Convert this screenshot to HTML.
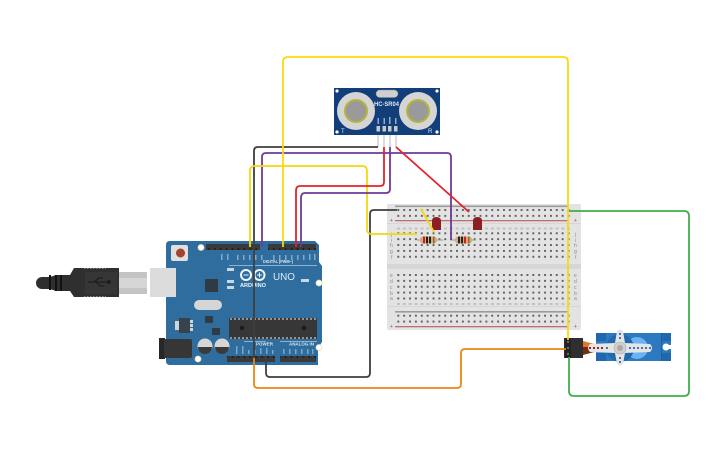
<!DOCTYPE html>
<html><head><meta charset="utf-8"><style>
html,body{margin:0;padding:0;background:#fff;width:725px;height:453px;overflow:hidden}
svg{display:block}
text{font-family:"Liberation Sans",sans-serif}
</style></head><body>
<svg width="725" height="453" viewBox="0 0 725 453" xmlns="http://www.w3.org/2000/svg">
<defs>
<pattern id="h1" x="395.35" y="207.05" width="5.87" height="5.87" patternUnits="userSpaceOnUse"><rect x="2" y="2" width="1.9" height="1.9" fill="#5c5c5c"/></pattern>
<pattern id="h2" x="395.35" y="230.35" width="5.87" height="5.87" patternUnits="userSpaceOnUse"><rect x="2" y="2" width="1.9" height="1.9" fill="#5c5c5c"/></pattern>
<pattern id="h3" x="395.35" y="272.05" width="5.87" height="5.87" patternUnits="userSpaceOnUse"><rect x="2" y="2" width="1.9" height="1.9" fill="#5c5c5c"/></pattern>
<pattern id="h4" x="395.35" y="312.75" width="5.87" height="5.87" patternUnits="userSpaceOnUse"><rect x="2" y="2" width="1.9" height="1.9" fill="#5c5c5c"/></pattern>
<pattern id="hd" x="206" y="0" width="5.9" height="6" patternUnits="userSpaceOnUse"><rect x="0" y="0" width="5.9" height="6" fill="#3a3a3a"/><rect x="2.1" y="2" width="1.7" height="2" fill="#1e1e1e"/></pattern>
</defs>
<!-- USB -->
<rect x="119" y="272" width="28" height="22" fill="#c4c4c4"/>
<rect x="119" y="278" width="28" height="10" fill="#d6d6d6"/>
<path d="M42 277H50L56 275H70L74 268H119V297H74L70 291H56L50 289H42A6 6 0 0 1 42 277Z" fill="#2f2f2f"/>
<rect x="49" y="275" width="2" height="15" fill="#111"/><rect x="55" y="275" width="2" height="16" fill="#111"/><rect x="60" y="275" width="2" height="16" fill="#111"/>
<path d="M84 268.500H106M84 296.500H106" stroke="#aaa" stroke-width=".8" stroke-dasharray="1.500 1.500"/>
<rect x="85" y="272" width="32" height="22" fill="#383838" opacity=".8"/>
<path d="M88 282H110M94 282L99 278H103M96 282L100 286H104" stroke="#1d1d1d" stroke-width="1.200" fill="none"/><circle cx="109" cy="282" r="2" fill="#1d1d1d"/>
<!-- Arduino -->
<path d="M170 241H315L319 245V262L322 266V342L318 348V365H170Q166 365 166 361V245Q166 241 170 241Z" fill="#2e6d9e"/>
<rect x="150" y="268" width="26" height="29" fill="#dcdcdc"/>
<rect x="171" y="245" width="17" height="16" rx="2" fill="#dfdfdf"/><circle cx="180.500" cy="253" r="4.500" fill="#a5432e"/>
<circle cx="201" cy="247.500" r="3" fill="#fff" stroke="#e4dfa8" stroke-width=".8"/>
<circle cx="319" cy="283" r="3" fill="#fff" stroke="#e4dfa8" stroke-width=".8"/>
<circle cx="319" cy="347.500" r="3" fill="#fff" stroke="#e4dfa8" stroke-width=".8"/>
<circle cx="198" cy="359" r="3" fill="#fff" stroke="#e4dfa8" stroke-width=".8"/>
<rect x="206" y="244" width="54" height="6" fill="url(#hd)"/>
<rect x="268" y="244" width="48" height="6" fill="url(#hd)"/>
<rect x="227" y="356" width="48" height="6" fill="url(#hd)"/>
<rect x="280" y="356" width="36" height="6" fill="url(#hd)"/>
<g fill="#cfdde8" opacity=".55">
<rect x="221" y="254" width="1.500" height="6"/><rect x="227" y="254" width="1.500" height="6"/><rect x="237" y="255" width="1.500" height="5"/><rect x="243" y="255" width="1.500" height="5"/><rect x="249" y="255" width="1.500" height="5"/><rect x="255" y="255" width="1.500" height="5"/><rect x="261" y="255" width="1.500" height="5"/>
<rect x="273" y="255" width="1.500" height="5"/><rect x="279" y="255" width="1.500" height="5"/><rect x="285" y="255" width="1.500" height="5"/><rect x="291" y="255" width="1.500" height="5"/><rect x="297" y="255" width="1.500" height="5"/><rect x="303" y="255" width="1.500" height="5"/><rect x="309" y="254" width="1.500" height="6"/><rect x="314" y="254" width="1.500" height="6"/>
</g>
<rect x="229" y="265" width="88" height=".7" fill="#b8d0e2"/>
<text x="263" y="263" font-size="4.600" font-weight="700" fill="#dbe7f0" textLength="30" lengthAdjust="spacingAndGlyphs">DIGITAL (PWM~)</text>
<circle cx="246" cy="275" r="5" fill="none" stroke="#f2f6f9" stroke-width="2"/>
<circle cx="259.500" cy="275" r="5" fill="none" stroke="#f2f6f9" stroke-width="2"/>
<path d="M243.500 275H248.500M257 275H262M259.500 272.500V277.500" stroke="#f2f6f9" stroke-width="1"/>
<text x="240" y="287" font-size="5" font-weight="700" fill="#eef4f8" textLength="26" lengthAdjust="spacingAndGlyphs">ARDUINO</text>
<text x="273" y="280" font-size="10" fill="#dfeaf3" textLength="22" lengthAdjust="spacingAndGlyphs">UNO</text>
<rect x="205" y="279" width="13" height="13" fill="#2f3b44"/>
<rect x="227" y="268" width="7" height="3" fill="#c9d7e0"/><rect x="227" y="280" width="7" height="3" fill="#c9d7e0"/><rect x="227" y="286" width="7" height="3" fill="#c9d7e0"/>
<rect x="301" y="279" width="8" height="3" fill="#c9d7e0"/>
<rect x="194" y="300" width="28" height="10" rx="5" fill="#d5d5d5"/>
<rect x="205" y="316" width="8" height="7" rx="1" fill="#2f3b44"/>
<rect x="175" y="321" width="6" height="9" fill="#cfd6da"/><rect x="179" y="318" width="11" height="15" fill="#37424a"/><rect x="190" y="320" width="3" height="3" fill="#cfd6da"/><rect x="190" y="324" width="3" height="3" fill="#cfd6da"/><rect x="190" y="328" width="3" height="3" fill="#cfd6da"/>
<rect x="212" y="328" width="8" height="7" fill="#2f3b44"/>
<rect x="229" y="318" width="88" height="21" rx="1" fill="#373737"/>
<path d="M230 319H316M230 338H316" stroke="#eee" stroke-width=".9" stroke-dasharray="2 2"/>
<circle cx="242" cy="328" r="2.200" fill="#1b1b1b"/><circle cx="304" cy="328" r="2.200" fill="#1b1b1b"/>
<rect x="159" y="338" width="6" height="21" fill="#272727"/><rect x="164" y="339" width="28" height="19" rx="2" fill="#363636"/>
<circle cx="205" cy="346" r="7.500" fill="#d6d6d6"/><path d="M198 347A7 7 0 0 0 212 347Z" fill="#3a3a3a"/>
<circle cx="222" cy="346" r="7.500" fill="#d6d6d6"/><path d="M215 347A7 7 0 0 0 229 347Z" fill="#3a3a3a"/>
<text x="256" y="345.500" font-size="4.500" font-weight="700" fill="#dbe7f0" textLength="17" lengthAdjust="spacingAndGlyphs">POWER</text>
<text x="289" y="345.500" font-size="4.500" font-weight="700" fill="#dbe7f0" textLength="25" lengthAdjust="spacingAndGlyphs">ANALOG IN</text>
<rect x="244" y="341" width="22" height=".7" fill="#b8d0e2"/><rect x="280" y="341" width="37" height=".7" fill="#b8d0e2"/>
<g fill="#cfdde8" opacity=".5"><rect x="236" y="346" width="1.500" height="8"/><rect x="242" y="346" width="1.500" height="8"/><rect x="248" y="350" width="1.500" height="4"/><rect x="254" y="350" width="1.500" height="4"/><rect x="260" y="348" width="1.500" height="6"/><rect x="266" y="348" width="1.500" height="6"/><rect x="272" y="350" width="1.500" height="4"/><rect x="283" y="349" width="1.500" height="5"/><rect x="289" y="349" width="1.500" height="5"/><rect x="295" y="349" width="1.500" height="5"/><rect x="301" y="349" width="1.500" height="5"/><rect x="307" y="349" width="1.500" height="5"/><rect x="312" y="349" width="1.500" height="5"/></g>
<!-- Breadboard -->
<rect x="387" y="204" width="194" height="126" rx="2" fill="#e3e3e3"/>
<rect x="387" y="223" width="194" height="1" fill="#d6d6d6"/>
<rect x="387" y="264" width="194" height="5" fill="#d6d6d6"/>
<rect x="387" y="306" width="194" height="1" fill="#d6d6d6"/>
<rect x="395" y="205.500" width="173" height="1.600" fill="#9b9b9b"/>
<rect x="395" y="220" width="173" height="1.300" fill="#bc7070"/>
<rect x="395" y="311" width="173" height="1.600" fill="#9b9b9b"/>
<rect x="395" y="326" width="173" height="1.300" fill="#bc7070"/>
<rect x="395.350" y="207.050" width="176.100" height="11.740" fill="url(#h1)"/>
<rect x="395.350" y="230.350" width="176.100" height="29.350" fill="url(#h2)"/>
<rect x="395.350" y="272.050" width="176.100" height="29.350" fill="url(#h3)"/>
<rect x="395.350" y="312.750" width="176.100" height="11.740" fill="url(#h4)"/>
<g font-size="5" fill="#8a8a8a">
<text x="390" y="222" fill="#b33">+</text><text x="574" y="222" fill="#b33">+</text>
<text x="390" y="328" fill="#b33">+</text><text x="574" y="328" fill="#b33">+</text>
<text x="391" y="236">j</text><text x="391" y="242">i</text><text x="390" y="247">h</text><text x="390" y="253">g</text><text x="391" y="259">f</text>
<text x="390" y="277">e</text><text x="390" y="283">d</text><text x="390" y="289">c</text><text x="390" y="295">b</text><text x="390" y="300">a</text>
<text x="575" y="236">j</text><text x="575" y="242">i</text><text x="574" y="247">h</text><text x="574" y="253">g</text><text x="575" y="259">f</text>
<text x="574" y="277">e</text><text x="574" y="283">d</text><text x="574" y="289">c</text><text x="574" y="295">b</text><text x="574" y="300">a</text>
</g>
<path d="M397 228.500H570M397 304H570" stroke="#c2c2c2" stroke-width="2" stroke-dasharray="3 2.870"/>
<!-- Resistors -->
<path d="M417 240H443M450 240H476" stroke="#999" stroke-width="1"/>
<rect x="420" y="236.500" width="17" height="7" rx="3" fill="#d3ad73"/>
<rect x="423" y="236.500" width="2" height="7" fill="#c22"/><rect x="426" y="236.500" width="2" height="7" fill="#222"/><rect x="429" y="236.500" width="2" height="7" fill="#222"/><rect x="433" y="236.500" width="1.500" height="7" fill="#8a6a30"/>
<rect x="455" y="236.500" width="17" height="7" rx="3" fill="#d3ad73"/>
<rect x="458" y="236.500" width="2" height="7" fill="#222"/><rect x="461" y="236.500" width="2" height="7" fill="#222"/><rect x="464" y="236.500" width="2" height="7" fill="#c22"/><rect x="468" y="236.500" width="1.500" height="7" fill="#8a6a30"/>
<!-- LEDs -->
<path d="M432 230V221Q432 217 436 217Q441 217 441 221V230Z" fill="#8c1f24"/>
<path d="M473 230V221Q473 217 477.500 217Q482 217 482 221V230Z" fill="#8c1f24"/>
<!-- Servo -->
<path d="M583 341L598 345V347H583Z" fill="#d9782a"/><rect x="583" y="347" width="6" height="4" fill="#8a1c1c"/><path d="M583 355L598 351V350H583Z" fill="#6b3414"/>
<path d="M596 333H671V361H596Z" fill="#2d79bf"/>
<rect x="596" y="333" width="10" height="8" fill="#1f68ad"/><rect x="596" y="353" width="10" height="8" fill="#1f68ad"/><rect x="661" y="333" width="10" height="8" fill="#1f68ad"/><rect x="661" y="353" width="10" height="8" fill="#1f68ad"/>
<rect x="661" y="333" width=".8" height="28" fill="#1a5d9c"/>
<circle cx="637" cy="348" r="11" fill="#6cb2f2"/><circle cx="620" cy="348" r="14" fill="#2268ad"/>
<circle cx="666" cy="347" r="3.500" fill="#fff"/><rect x="667" y="345" width="4" height="4" fill="#fff"/>
<path d="M617 331Q620 328 623 331L625 343L650 344Q654 348 650 352L625 353L623 364Q620 367 617 364L615 353L590 352Q586 348 590 344L615 343Z" fill="#e5e5e5"/>
<circle cx="620" cy="348" r="6" fill="#d0d0d0" stroke="#aaa" stroke-width=".6"/><circle cx="620" cy="348" r="3" fill="#aaa"/>
<g fill="#8a2b2b"><rect x="589" y="347" width="2" height="2"/><rect x="593" y="347" width="2" height="2"/><rect x="597" y="347" width="2" height="2"/><rect x="601" y="347" width="2" height="2"/></g>
<g fill="#3a78b5"><rect x="606" y="347" width="2" height="2"/><rect x="629" y="347" width="2" height="2"/><rect x="633" y="347" width="2" height="2"/><rect x="637" y="347" width="2" height="2"/><rect x="641" y="347" width="2" height="2"/><rect x="645" y="347" width="2" height="2"/><rect x="649" y="347" width="2" height="2"/><rect x="619" y="333" width="2" height="2"/><rect x="619" y="337" width="2" height="2"/><rect x="619" y="357" width="2" height="2"/><rect x="619" y="361" width="2" height="2"/></g>
<rect x="564" y="338" width="19" height="20" fill="#2f2f2f"/><rect x="565" y="338" width="6" height="20" fill="#222"/>
<circle cx="568" cy="342" r="1.200" fill="#666"/><circle cx="568" cy="348" r="1.200" fill="#666"/><circle cx="568" cy="354" r="1.200" fill="#666"/>
<!-- Sensor -->
<path d="M378 132V147M384 132V147M390 132V147M396 132V147" stroke="#d8d8d8" stroke-width="1.800"/>
<rect x="334" y="88" width="106" height="47" fill="#123f7a"/>
<circle cx="337" cy="91" r="1.600" fill="#fff"/><circle cx="437" cy="91" r="1.600" fill="#fff"/><circle cx="337" cy="132" r="1.600" fill="#fff"/><circle cx="437" cy="132" r="1.600" fill="#fff"/>
<rect x="376" y="90" width="22" height="7.500" rx="3.700" fill="#cfcfcf" stroke="#888" stroke-width=".5"/>
<circle cx="356" cy="111" r="19" fill="#d5d5d5"/><circle cx="356" cy="111" r="12" fill="#b5b53c"/><circle cx="356" cy="111" r="10" fill="#9a9a9a"/>
<circle cx="418" cy="111" r="19" fill="#d5d5d5"/><circle cx="418" cy="111" r="12" fill="#b5b53c"/><circle cx="418" cy="111" r="10" fill="#9a9a9a"/>
<text x="374" y="106" font-size="6" font-weight="700" fill="#e4e9f0" textLength="25" lengthAdjust="spacingAndGlyphs">HC-SR04</text>
<rect x="376.500" y="126" width="3.500" height="5.500" fill="#c8c8c8"/><rect x="382.500" y="126" width="3.500" height="5.500" fill="#c8c8c8"/><rect x="388" y="126" width="3.500" height="5.500" fill="#c8c8c8"/><rect x="394" y="126" width="3.500" height="5.500" fill="#c8c8c8"/>
<g fill="#cfd8e4" opacity=".7"><rect x="377.500" y="118" width="1.500" height="6"/><rect x="383.500" y="118" width="1.500" height="6"/><rect x="389" y="117" width="1.500" height="7"/><rect x="395" y="118" width="1.500" height="6"/></g>
<text x="341" y="133" font-size="6" fill="#dfe5ee">T</text><text x="428" y="133" font-size="6" fill="#dfe5ee">R</text>
<!-- Wires -->
<g fill="none" stroke-width="1.800" stroke-linejoin="round">
<path d="M254 358V384Q254 388 258 388H457Q461 388 461 384V353Q461 349 465 349H566" stroke="#ee8412"/>
<path d="M266 358V373Q266 377 270 377H366Q370 377 370 373V214Q370 210 374 210H397" stroke="#3f3f3f"/>
<path d="M567 211H684Q689 211 689 216V391Q689 396 684 396H574Q569 396 569 391V357" stroke="#3fae49"/>
<path d="M378 147H258Q254 147 254 151V358" stroke="#3f3f3f"/>
<path d="M262 247V157Q262 153 266 153H447Q451 153 451 157V240" stroke="#6f3a96"/>
<path d="M250 247V171Q250 166 255 166H362Q367 166 367 171V229Q367 234 372 234H417" stroke="#f4d80e"/>
<path d="M296 247V191Q296 186 300 186H380Q384 186 384 182V147" stroke="#e2232a"/>
<path d="M301 247V198Q301 193 305 193H386Q390 193 390 189V147" stroke="#6f3a96"/>
<path d="M396 147L469 212" stroke="#e2232a"/>
<path d="M421 209L434 232" stroke="#f4d80e"/>
<path d="M283 247V62Q283 57 288 57H563Q568 57 568 62V340" stroke="#f9d90c"/>
</g>
</svg>
</body></html>
